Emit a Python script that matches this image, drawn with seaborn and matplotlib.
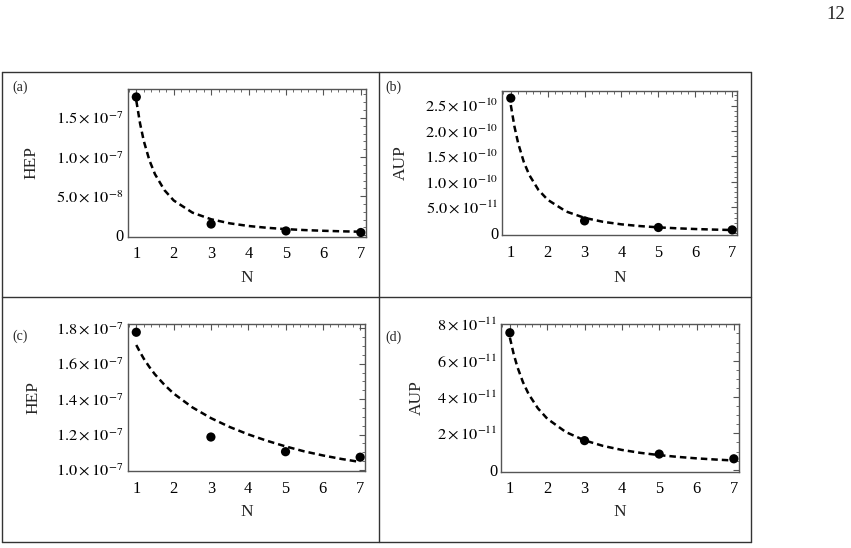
import numpy as np
import pandas as pd
import matplotlib
matplotlib.use("Agg")
import matplotlib.pyplot as plt
import seaborn as sns
from matplotlib.ticker import FixedLocator, FixedFormatter, MultipleLocator
from matplotlib.lines import Line2D

# ---------------- data ----------------
N_points = [1, 3, 5, 7]
hep_a = [1.767e-7, 1.44e-8, 5.6e-9, 3.6e-9]
aup_b = [2.645e-10, 2.36e-11, 1.06e-11, 5.9e-12]
hep_c = [1.778e-7, 1.186e-7, 1.103e-7, 1.072e-7]
aup_d = [7.54e-11, 1.60e-11, 8.6e-12, 6.0e-12]

N_fit = [1, 1.1, 1.2, 1.35, 1.5, 1.75, 2, 2.5, 3, 3.5, 4, 4.5, 5, 5.5, 6, 6.5, 7]
fit_a = [1.72e-7, 1.429e-7, 1.205e-7, 9.58e-8, 7.80e-8, 5.78e-8, 4.45e-8, 2.90e-8,
         2.05e-8, 1.53e-8, 1.19e-8, 9.6e-9, 7.9e-9, 6.7e-9, 5.8e-9, 5.1e-9, 4.6e-9]
fit_b = [2.51e-10, 2.085e-10, 1.759e-10, 1.398e-10, 1.138e-10, 8.43e-11, 6.50e-11, 4.20e-11,
         2.95e-11, 2.18e-11, 1.68e-11, 1.34e-11, 1.09e-11, 9.04e-12, 7.62e-12, 6.52e-12, 5.65e-12]
fit_c = [1.706e-7, 1.666e-7, 1.629e-7, 1.582e-7, 1.540e-7, 1.482e-7, 1.432e-7, 1.354e-7,
         1.293e-7, 1.243e-7, 1.201e-7, 1.165e-7, 1.133e-7, 1.105e-7, 1.082e-7, 1.062e-7, 1.045e-7]
fit_d = [7.27e-11, 6.38e-11, 5.66e-11, 4.82e-11, 4.17e-11, 3.38e-11, 2.81e-11, 2.07e-11,
         1.614e-11, 1.307e-11, 1.088e-11, 9.26e-12, 8.02e-12, 7.04e-12, 6.24e-12, 5.60e-12, 5.05e-12]

x_ticks = [1, 2, 3, 4, 5, 6, 7]
yticks_a = [0, 5e-8, 1e-7, 1.5e-7]
ylabels_a = ["0", r"$5.0\times10^{-8}$", r"$1.0\times10^{-7}$", r"$1.5\times10^{-7}$"]
yticks_b = [0, 5e-11, 1e-10, 1.5e-10, 2e-10, 2.5e-10]
ylabels_b = ["0", r"$5.0\times10^{-11}$", r"$1.0\times10^{-10}$", r"$1.5\times10^{-10}$",
             r"$2.0\times10^{-10}$", r"$2.5\times10^{-10}$"]
yticks_c = [1.0e-7, 1.2e-7, 1.4e-7, 1.6e-7, 1.8e-7]
ylabels_c = [r"$1.0\times10^{-7}$", r"$1.2\times10^{-7}$", r"$1.4\times10^{-7}$",
             r"$1.6\times10^{-7}$", r"$1.8\times10^{-7}$"]
yticks_d = [0, 2e-11, 4e-11, 6e-11, 8e-11]
ylabels_d = ["0", r"$2\times10^{-11}$", r"$4\times10^{-11}$", r"$6\times10^{-11}$",
             r"$8\times10^{-11}$"]

panel_letters = ["(a)", "(b)", "(c)", "(d)"]
ylabel_names = ["HEP", "AUP", "HEP", "AUP"]
x_name = "N"
page_number = "12"

# ---------------- style ----------------
sns.set_style("white")
plt.rcParams["font.family"] = ["Liberation Serif", "DejaVu Serif"]
plt.rcParams["mathtext.fontset"] = "stix"

W, H = 851, 548
fig = plt.figure(figsize=(W / 100, H / 100), dpi=100)


def fx(px):
    return px / W


def fy(py):
    return 1 - py / H


# axes boxes in pixels: left, top, right, bottom
boxes = [(127.7, 89.3, 365.7, 236.5),
         (502.3, 90.5, 737.0, 235.2),
         (127.7, 324.3, 365.0, 471.0),
         (501.3, 324.3, 738.7, 471.5)]
ylims = [(-1.5e-9, 1.865e-7), (-4.5e-12, 2.795e-10), (0.994e-7, 1.823e-7), (-1.0e-12, 8.005e-11)]
minor_steps = [1e-8, 1e-11, 0.5e-8, 0.5e-11]
ylabel_right_px = [39.5, 408.5, 41.5, 424.5]   # right edge of rotated y label
xlabel_top_px = [269.5, 269.5, 504.0, 504.5]

points = [hep_a, aup_b, hep_c, aup_d]
fits = [fit_a, fit_b, fit_c, fit_d]
yticks = [yticks_a, yticks_b, yticks_c, yticks_d]
ylabels = [ylabels_a, ylabels_b, ylabels_c, ylabels_d]
letter_pos = [(12.5, 87), (385, 87), (12.5, 336.5), (385, 337.5)]

frame_col = "#555555"

for i in range(4):
    l, t, r, b = boxes[i]
    ax = fig.add_axes([fx(l), fy(b), fx(r) - fx(l), (b - t) / H])
    df_fit = pd.DataFrame({"N": N_fit, "v": fits[i]})
    df_pts = pd.DataFrame({"N": N_points, "v": points[i]})
    sns.lineplot(data=df_fit, x="N", y="v", ax=ax, color="black", lw=1.8,
                 linestyle=(0, (2.6, 1.6)), zorder=2)
    sns.scatterplot(data=df_pts, x="N", y="v", ax=ax, color="black", s=44,
                    edgecolor="none", zorder=3)
    ax.set_xlim(0.77, 7.13)
    ax.set_ylim(*ylims[i])
    ax.xaxis.set_major_locator(FixedLocator(x_ticks))
    ax.xaxis.set_minor_locator(MultipleLocator(0.2))
    ax.yaxis.set_major_locator(FixedLocator(yticks[i]))
    ax.yaxis.set_major_formatter(FixedFormatter(ylabels[i]))
    ax.yaxis.set_minor_locator(MultipleLocator(minor_steps[i]))
    ax.tick_params(which="both", direction="in", top=True, right=True,
                   color=frame_col, labelsize=11.8, labelcolor="black")
    ax.tick_params(which="major", length=4, width=0.8)
    ax.tick_params(which="minor", length=2, width=0.6)
    ax.tick_params(axis="x", pad=7)
    ax.tick_params(axis="y", pad=3)
    for sp in ax.spines.values():
        sp.set_visible(True)
        sp.set_color(frame_col)
        sp.set_linewidth(1.0)
    ax.set_xlabel(x_name, fontsize=12.5)
    ax.set_ylabel(ylabel_names[i], fontsize=12.5)
    ax.yaxis.set_label_coords((ylabel_right_px[i] - l) / (r - l), 0.5)
    ax.xaxis.set_label_coords(0.5, (b - xlabel_top_px[i]) / (b - t))
    lx, ly = letter_pos[i]
    fig.text(fx(lx), fy(ly), panel_letters[i], fontsize=10, ha="left", va="center")

# outer frame of the figure grid
bx0, bx1, bxm = 1.5, 750.5, 379
by0, by1, bym = 71.5, 542, 297
line_kw = dict(color="#333333", lw=1.0, transform=fig.transFigure)
for (xa, ya, xb, yb) in [(bx0, by0, bx1, by0), (bx0, by1, bx1, by1), (bx0, by0, bx0, by1),
                         (bx1, by0, bx1, by1), (bxm, by0, bxm, by1), (bx0, bym, bx1, bym)]:
    fig.add_artist(Line2D([fx(xa), fx(xb)], [fy(ya), fy(yb)], **line_kw))

fig.text(fx(845), fy(14.5), page_number, fontsize=13.5, ha="right", va="center")

fig.savefig("out.png", dpi=100)
